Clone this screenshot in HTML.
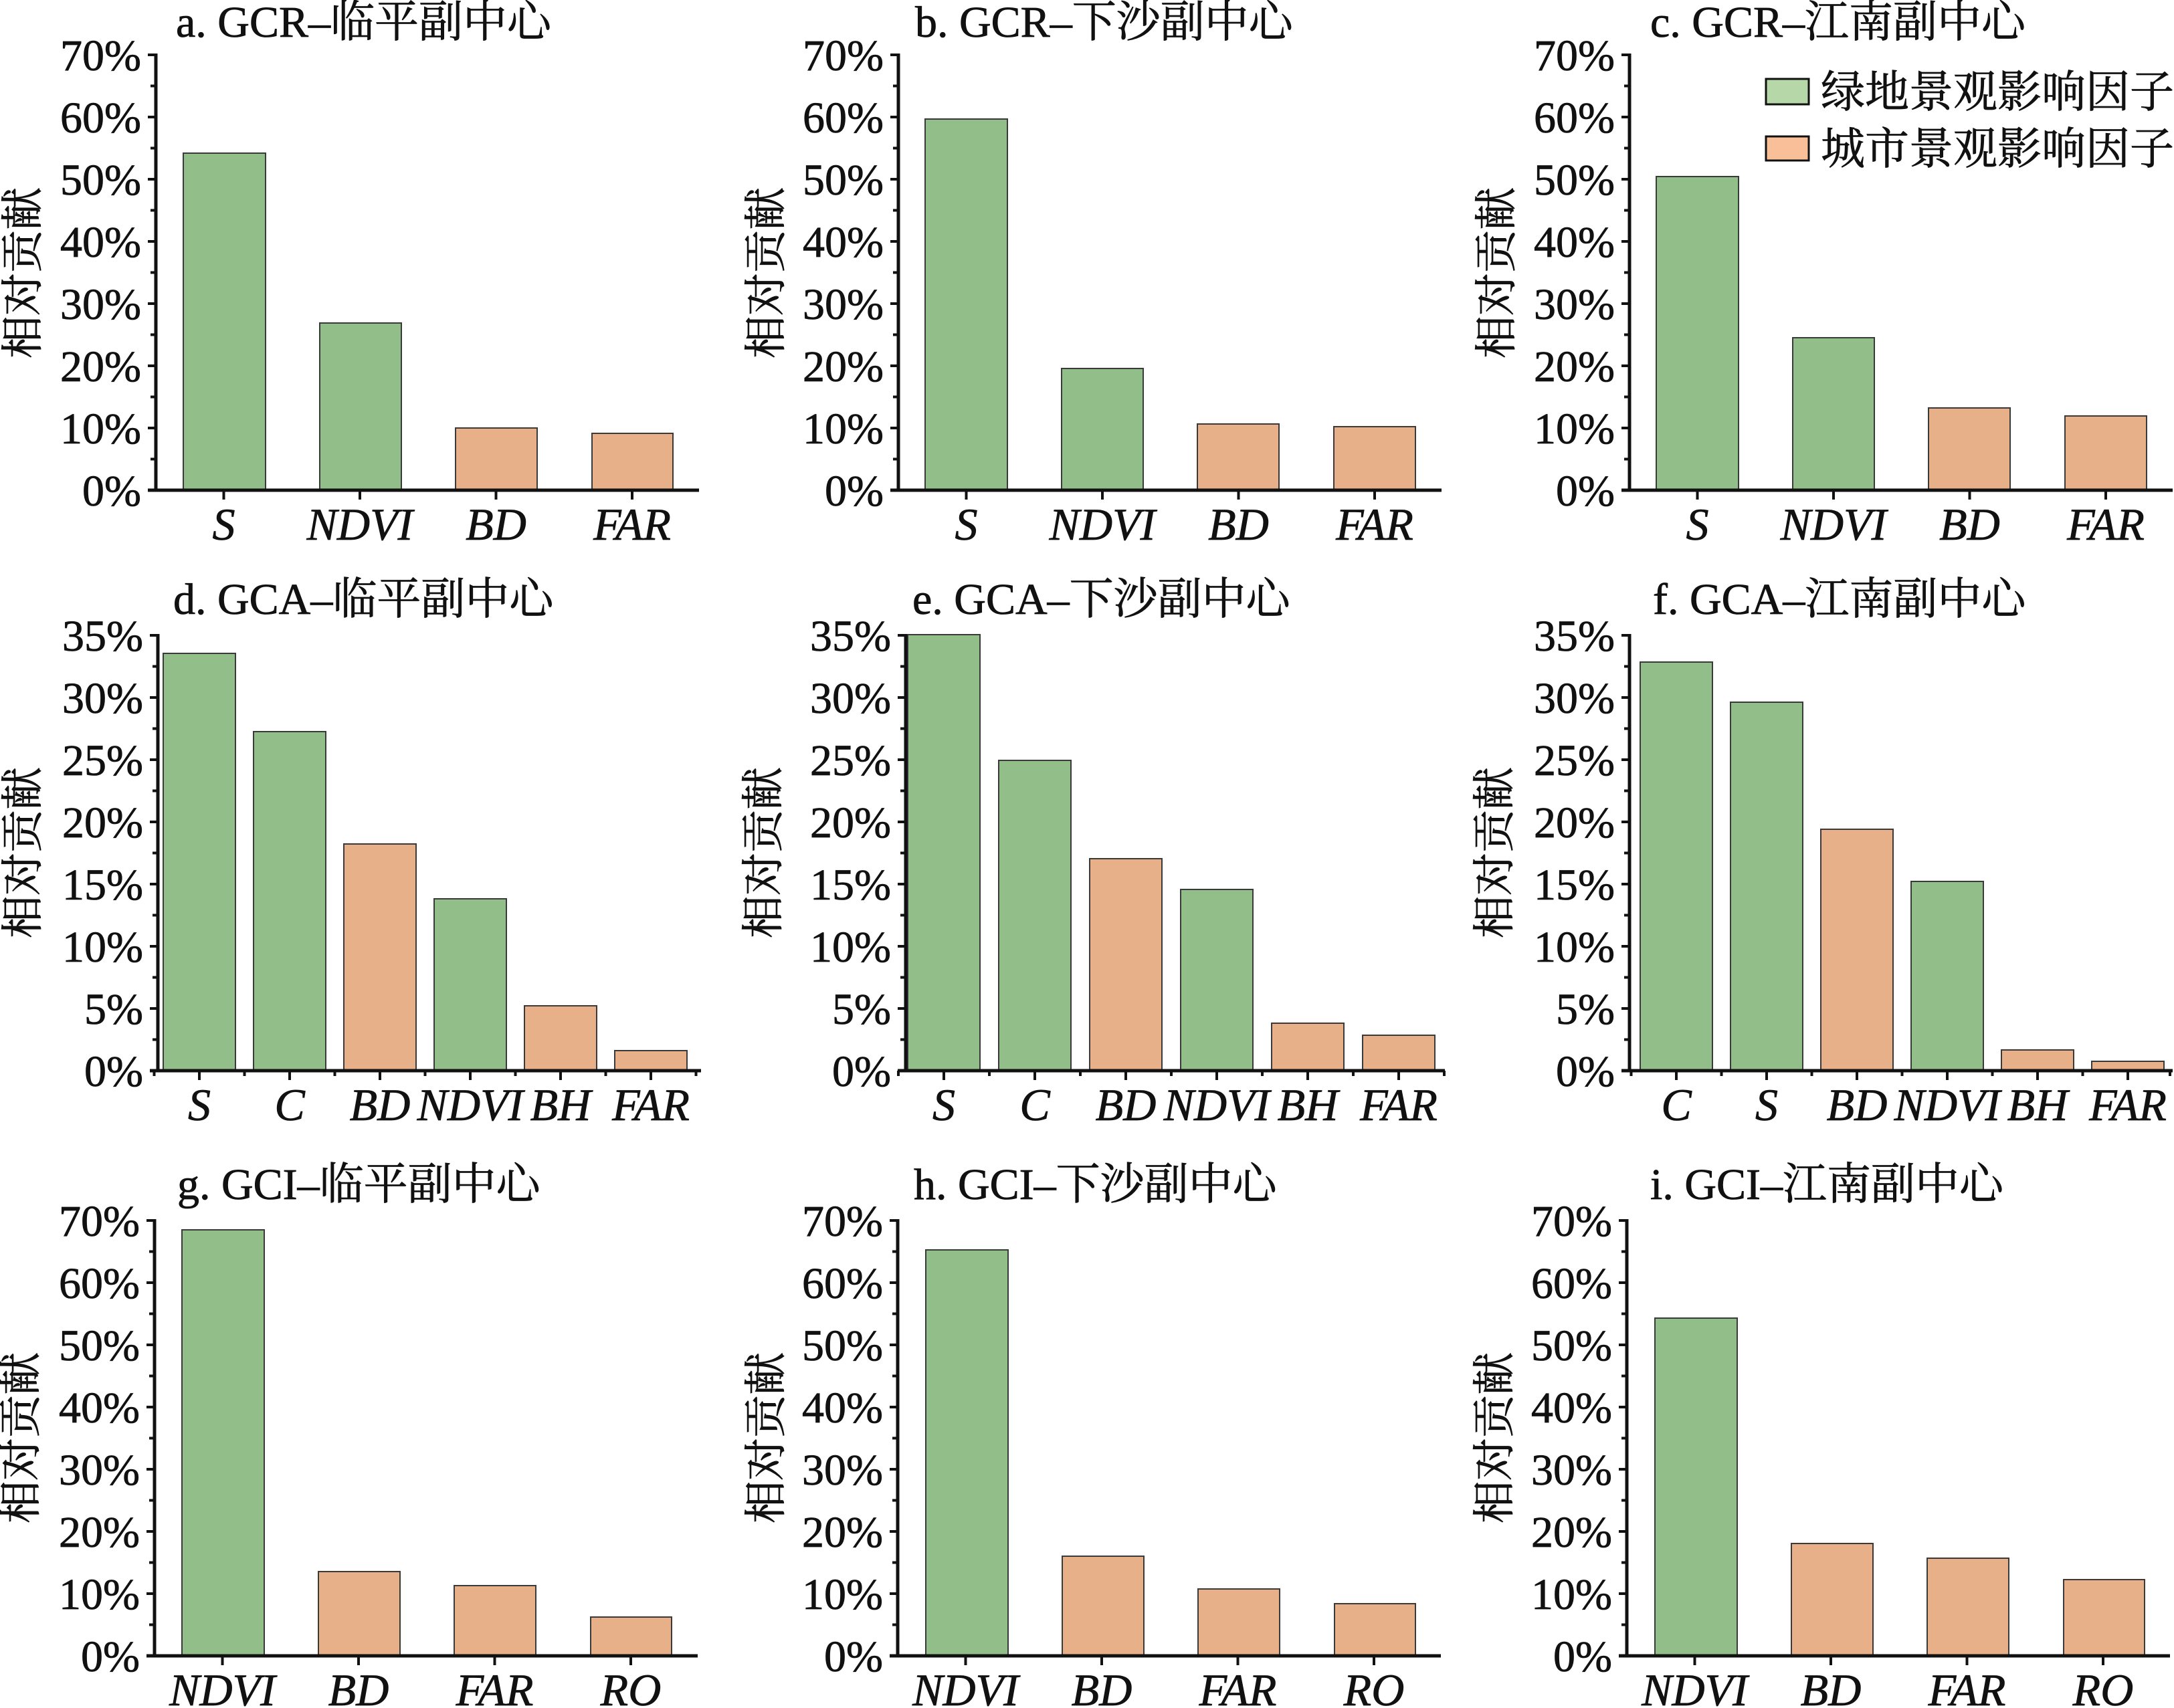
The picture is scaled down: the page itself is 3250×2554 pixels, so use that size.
<!DOCTYPE html>
<html><head><meta charset="utf-8">
<style>
html,body{margin:0;padding:0;background:#fff;}
svg{display:block;}
text{font-family:"Liberation Serif","Noto Serif CJK SC",serif;fill:#111;stroke:#111;stroke-width:0.8px;}
.tk{font-size:66px;text-anchor:end;}
.xl{font-size:68px;font-style:italic;text-anchor:middle;}
.tt{font-size:66px;}
.yt{font-size:64px;text-anchor:middle;}
.g{fill:#92bf89;stroke:#3a3a3a;stroke-width:2;}
.o{fill:#e8b089;stroke:#3a3a3a;stroke-width:2;}
.ax{stroke:#111;fill:none;}
</style></head>
<body>
<svg width="3250" height="2554" viewBox="0 0 3250 2554" xmlns="http://www.w3.org/2000/svg">
<defs>
<g id="yax">
<path class="ax" stroke-width="5" d="M0,-653V2"/>
<path class="ax" stroke-width="4" d="M-12,0H0M-12,-93H0M-12,-186H0M-12,-279H0M-12,-372H0M-12,-465H0M-12,-558H0M-12,-651H0"/>
<path class="ax" stroke-width="4" d="M-8,-46.5H0M-8,-139.5H0M-8,-232.5H0M-8,-325.5H0M-8,-418.5H0M-8,-511.5H0M-8,-604.5H0"/>
</g>
<g id="a4">
<use href="#yax"/>
<path class="ax" stroke-width="5" d="M-12,0H812"/>
<path class="ax" stroke-width="4" d="M101.5,0V14M305,0V14M508.5,0V14M712,0V14"/>
</g>
<g id="t70">
<text class="tk" x="-22" y="23">0%</text>
<text class="tk" x="-22" y="-70">10%</text>
<text class="tk" x="-22" y="-163">20%</text>
<text class="tk" x="-22" y="-256">30%</text>
<text class="tk" x="-22" y="-349">40%</text>
<text class="tk" x="-22" y="-442">50%</text>
<text class="tk" x="-22" y="-535">60%</text>
<text class="tk" x="-22" y="-628">70%</text>
</g>
<g id="t35">
<text class="tk" x="-22" y="23">0%</text>
<text class="tk" x="-22" y="-70">5%</text>
<text class="tk" x="-22" y="-163">10%</text>
<text class="tk" x="-22" y="-256">15%</text>
<text class="tk" x="-22" y="-349">20%</text>
<text class="tk" x="-22" y="-442">25%</text>
<text class="tk" x="-22" y="-535">30%</text>
<text class="tk" x="-22" y="-628">35%</text>
</g>
</defs>

<text class="tt" x="263" y="55">a. GCR–临平副中心</text>
<text class="tt" x="1368" y="55">b. GCR–下沙副中心</text>
<text class="tt" x="2467" y="55">c. GCR–江南副中心</text>
<text class="tt" x="259" y="918">d. GCA–临平副中心</text>
<text class="tt" x="1364" y="918">e. GCA–下沙副中心</text>
<text class="tt" x="2471" y="918">f. GCA–江南副中心</text>
<text class="tt" x="265" y="1793">g. GCI–临平副中心</text>
<text class="tt" x="1366" y="1793">h. GCI–下沙副中心</text>
<text class="tt" x="2467" y="1793">i. GCI–江南副中心</text>

<text class="yt" transform="translate(56,408) rotate(-90)">相对贡献</text>
<text class="yt" transform="translate(1167,408) rotate(-90)">相对贡献</text>
<text class="yt" transform="translate(2259,408) rotate(-90)">相对贡献</text>
<text class="yt" transform="translate(56,1275) rotate(-90)">相对贡献</text>
<text class="yt" transform="translate(1163,1275) rotate(-90)">相对贡献</text>
<text class="yt" transform="translate(2256,1275) rotate(-90)">相对贡献</text>
<text class="yt" transform="translate(53,2150) rotate(-90)">相对贡献</text>
<text class="yt" transform="translate(1167,2150) rotate(-90)">相对贡献</text>
<text class="yt" transform="translate(2256,2150) rotate(-90)">相对贡献</text>

<g transform="translate(233,733)">
<rect class="g" x="41" y="-504" width="123" height="504"/>
<rect class="g" x="245" y="-250" width="122" height="250"/>
<rect class="o" x="448" y="-93" width="122" height="93"/>
<rect class="o" x="652" y="-85" width="121" height="85"/>
<use href="#a4"/><use href="#t70"/>
<text class="xl" x="101.5" y="74">S</text><text class="xl" x="305" y="74">NDVI</text><text class="xl" x="508.5" y="74">BD</text><text class="xl" x="712" y="74">FAR</text>
</g>
<g transform="translate(1343,733)">
<rect class="g" x="40" y="-555" width="123" height="555"/>
<rect class="g" x="244" y="-182" width="122" height="182"/>
<rect class="o" x="447" y="-99" width="122" height="99"/>
<rect class="o" x="651" y="-95" width="122" height="95"/>
<use href="#a4"/><use href="#t70"/>
<text class="xl" x="101.5" y="74">S</text><text class="xl" x="305" y="74">NDVI</text><text class="xl" x="508.5" y="74">BD</text><text class="xl" x="712" y="74">FAR</text>
</g>
<g transform="translate(2436,733)">
<rect class="g" x="40" y="-469" width="123" height="469"/>
<rect class="g" x="244" y="-228" width="122" height="228"/>
<rect class="o" x="447" y="-123" width="122" height="123"/>
<rect class="o" x="651" y="-111" width="122" height="111"/>
<use href="#a4"/><use href="#t70"/>
<text class="xl" x="101.5" y="74">S</text><text class="xl" x="305" y="74">NDVI</text><text class="xl" x="508.5" y="74">BD</text><text class="xl" x="712" y="74">FAR</text>
</g>

<g transform="translate(236,1601)">
<rect class="g" x="8" y="-624" width="108" height="624"/>
<rect class="g" x="143" y="-507" width="108" height="507"/>
<rect class="o" x="278" y="-339" width="108" height="339"/>
<rect class="g" x="413" y="-257" width="108" height="257"/>
<rect class="o" x="548" y="-97" width="108" height="97"/>
<rect class="o" x="683" y="-30" width="108" height="30"/>
<use href="#yax"/><use href="#t35"/>
<path class="ax" stroke-width="5" d="M-12,0H812"/>
<path class="ax" stroke-width="4" d="M62,0V14M197,0V14M332,0V14M467,0V14M602,0V14M737,0V14M-5.5,0V8M129.5,0V8M264.5,0V8M399.5,0V8M534.5,0V8M669.5,0V8M804.5,0V8"/>
<text class="xl" x="62" y="74">S</text><text class="xl" x="197" y="74">C</text><text class="xl" x="332" y="74">BD</text><text class="xl" x="467" y="74">NDVI</text><text class="xl" x="602" y="74">BH</text><text class="xl" x="737" y="74">FAR</text>
</g>
<g transform="translate(1354,1601)">
<rect class="g" x="3" y="-652" width="108" height="652"/>
<rect class="g" x="139" y="-464" width="108" height="464"/>
<rect class="o" x="275" y="-317" width="108" height="317"/>
<rect class="g" x="411" y="-271" width="108" height="271"/>
<rect class="o" x="547" y="-71" width="108" height="71"/>
<rect class="o" x="683" y="-53" width="108" height="53"/>
<use href="#yax"/><use href="#t35"/>
<path class="ax" stroke-width="5" d="M-12,0H806"/>
<path class="ax" stroke-width="4" d="M57,0V14M193,0V14M329,0V14M465,0V14M601,0V14M737,0V14M-11,0V8M125,0V8M261,0V8M397,0V8M533,0V8M669,0V8M805,0V8"/>
<text class="xl" x="57" y="74">S</text><text class="xl" x="193" y="74">C</text><text class="xl" x="329" y="74">BD</text><text class="xl" x="465" y="74">NDVI</text><text class="xl" x="601" y="74">BH</text><text class="xl" x="737" y="74">FAR</text>
</g>
<g transform="translate(2436,1601)">
<rect class="g" x="16" y="-611" width="108" height="611"/>
<rect class="g" x="151" y="-551" width="108" height="551"/>
<rect class="o" x="286" y="-361" width="108" height="361"/>
<rect class="g" x="421" y="-283" width="108" height="283"/>
<rect class="o" x="556" y="-31" width="108" height="31"/>
<rect class="o" x="691" y="-14" width="108" height="14"/>
<use href="#yax"/><use href="#t35"/>
<path class="ax" stroke-width="5" d="M-12,0H812"/>
<path class="ax" stroke-width="4" d="M70,0V14M205,0V14M340,0V14M475,0V14M610,0V14M745,0V14M2.5,0V8M137.5,0V8M272.5,0V8M407.5,0V8M542.5,0V8M677.5,0V8M808,0V8"/>
<text class="xl" x="70" y="74">C</text><text class="xl" x="205" y="74">S</text><text class="xl" x="340" y="74">BD</text><text class="xl" x="475" y="74">NDVI</text><text class="xl" x="610" y="74">BH</text><text class="xl" x="745" y="74">FAR</text>
</g>

<g transform="translate(231,2476)">
<rect class="g" x="41" y="-637" width="123" height="637"/>
<rect class="o" x="245" y="-126" width="122" height="126"/>
<rect class="o" x="448" y="-105" width="122" height="105"/>
<rect class="o" x="652" y="-58" width="121" height="58"/>
<use href="#a4"/><use href="#t70"/>
<text class="xl" x="101.5" y="74">NDVI</text><text class="xl" x="305" y="74">BD</text><text class="xl" x="508.5" y="74">FAR</text><text class="xl" x="712" y="74">RO</text>
</g>
<g transform="translate(1342,2476)">
<rect class="g" x="42" y="-607" width="123" height="607"/>
<rect class="o" x="246" y="-149" width="122" height="149"/>
<rect class="o" x="449" y="-100" width="122" height="100"/>
<rect class="o" x="653" y="-78" width="121" height="78"/>
<use href="#a4"/><use href="#t70"/>
<text class="xl" x="101.5" y="74">NDVI</text><text class="xl" x="305" y="74">BD</text><text class="xl" x="508.5" y="74">FAR</text><text class="xl" x="712" y="74">RO</text>
</g>
<g transform="translate(2432,2476)">
<rect class="g" x="42" y="-505" width="123" height="505"/>
<rect class="o" x="246" y="-168" width="122" height="168"/>
<rect class="o" x="449" y="-146" width="122" height="146"/>
<rect class="o" x="653" y="-114" width="121" height="114"/>
<use href="#a4"/><use href="#t70"/>
<text class="xl" x="101.5" y="74">NDVI</text><text class="xl" x="305" y="74">BD</text><text class="xl" x="508.5" y="74">FAR</text><text class="xl" x="712" y="74">RO</text>
</g>

<rect x="2640" y="118" width="64" height="38" fill="#b6d7a8" stroke="#111" stroke-width="3"/>
<rect x="2640" y="204" width="64" height="36" fill="#f8bf99" stroke="#111" stroke-width="3"/>
<text class="tt" x="2722" y="160">绿地景观影响因子</text>
<text class="tt" x="2722" y="245">城市景观影响因子</text>
</svg>
</body></html>
